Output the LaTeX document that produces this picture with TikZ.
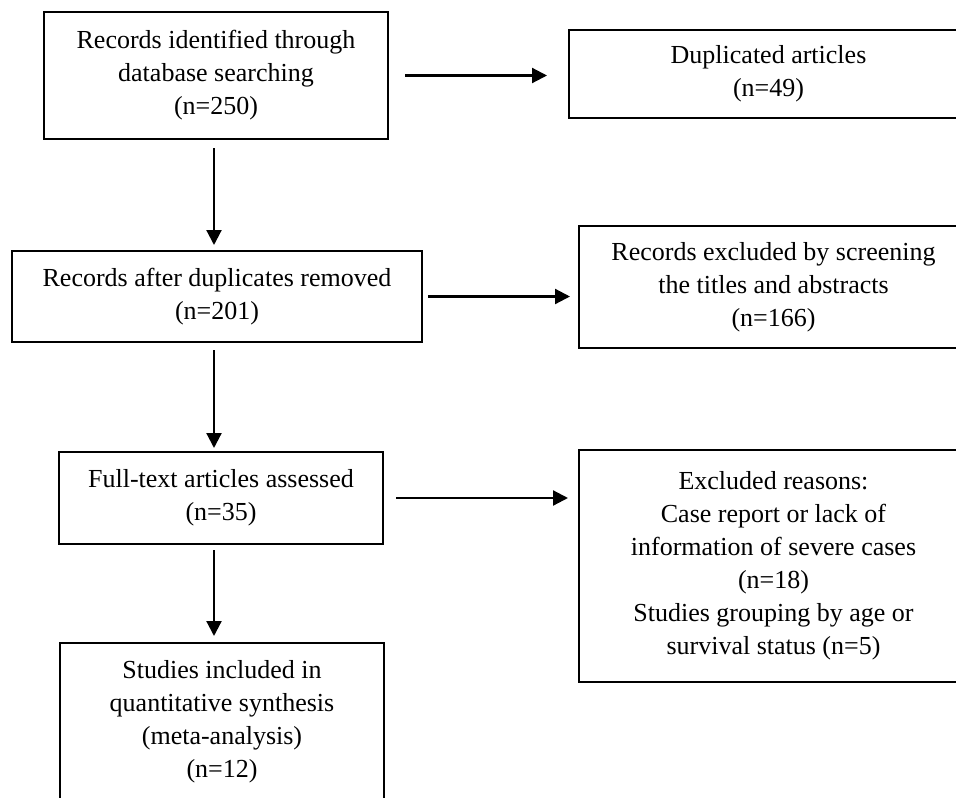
\documentclass[tikz,border=0pt]{standalone}
\usepackage{fontspec}
\setmainfont{Liberation Serif}
\usetikzlibrary{arrows.meta}
\begin{document}
\begin{tikzpicture}[x=1pt,y=-1pt,
  box/.style={draw=black, line width=2.8pt, inner sep=0pt, outer sep=0pt,
    align=center, font=\fontsize{26}{33}\selectfont},
  arr/.style={line width=2.2pt, -{Triangle[length=15pt,width=15pt]}}]
\useasboundingbox (0,0) rectangle (956,798);
\clip (0,0) rectangle (956,798);
\node[box, minimum width=344pt, minimum height=127pt] (b1) at (216,75.5)
  {Records identified through\\database searching\\(n=250)};
\node[box, minimum width=399pt, minimum height=88pt] (b2) at (768.5,74)
  {Duplicated articles\\(n=49)};
\node[box, minimum width=410pt, minimum height=91pt] (b3) at (217,296.5)
  {Records after duplicates removed\\(n=201)};
\node[box, minimum width=389pt, minimum height=122pt] (b4) at (773.5,287)
  {Records excluded by screening\\the titles and abstracts\\(n=166)};
\node[box, minimum width=324pt, minimum height=92pt] (b5) at (221,498)
  {Full-text articles assessed\\(n=35)};
\node[box, minimum width=389pt, minimum height=232pt] (b6) at (773.5,566)
  {Excluded reasons:\\Case report or lack of\\information of severe cases\\(n=18)\\Studies grouping by age or\\survival status (n=5)};
\node[box, minimum width=324pt, minimum height=157pt] (b7) at (222,721.5)
  {Studies included in\\quantitative synthesis\\(meta-analysis)\\(n=12)};
\coordinate (col) at (214,0);
\draw[arr, shorten <=17pt, shorten >=22pt] (b1.east) -- (b1.east -| b2.west);
\draw[arr, shorten <=6pt, shorten >=9pt] (b3.east) -- (b3.east -| b4.west);
\draw[arr, shorten <=13pt, shorten >=11pt] (b5.east) -- (b5.east -| b6.west);
\draw[arr, shorten <=9pt, shorten >=6pt] (b1.south -| col) -- (b3.north -| col);
\draw[arr, shorten <=8pt, shorten >=4pt] (b3.south -| col) -- (b5.north -| col);
\draw[arr, shorten <=6pt, shorten >=7pt] (b5.south -| col) -- (b7.north -| col);
\end{tikzpicture}
\end{document}
